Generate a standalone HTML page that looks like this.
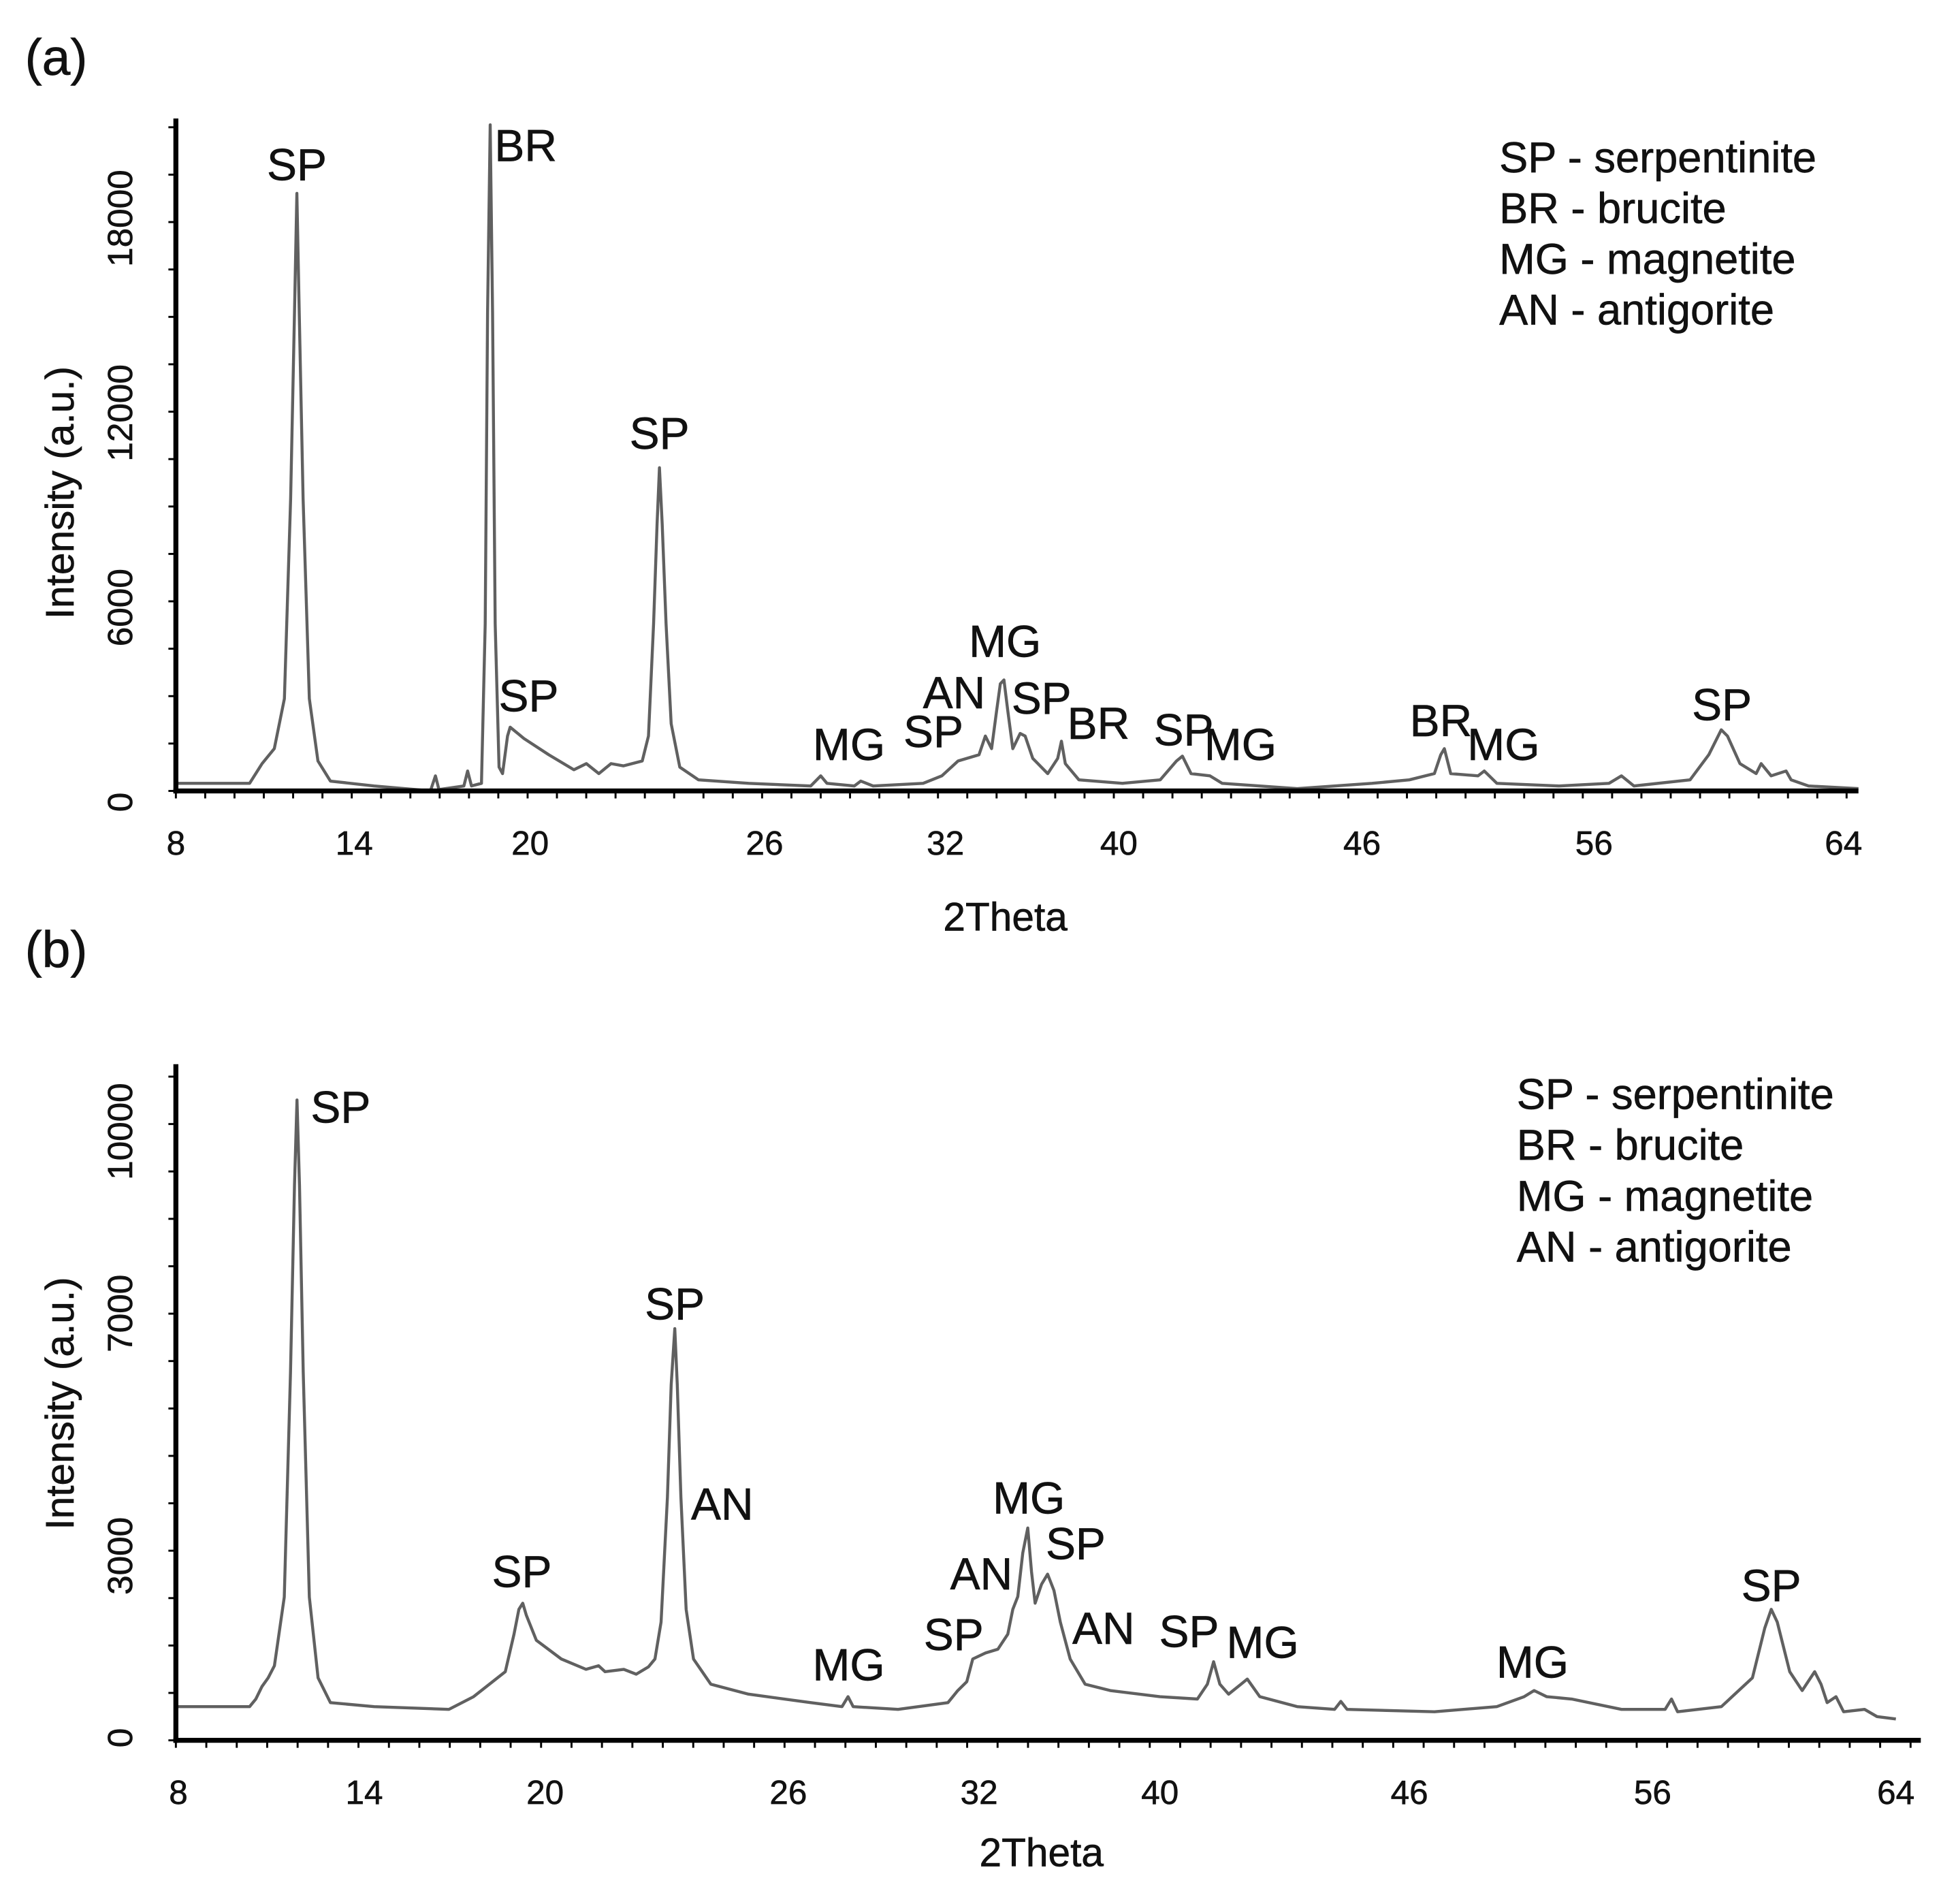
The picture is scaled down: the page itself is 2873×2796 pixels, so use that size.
<!DOCTYPE html>
<html><head><meta charset="utf-8">
<style>
html,body{margin:0;padding:0;background:#fff;}
svg{display:block;}
text{font-family:"Liberation Sans",Arial,sans-serif;fill:#111;stroke:#111;stroke-width:0.35;}
</style></head>
<body>
<svg id="fig" xmlns="http://www.w3.org/2000/svg" width="2873" height="2796" viewBox="0 0 1568.2 1526.2">
<rect width="1568.2" height="1526.2" fill="#fff"/>
</svg>
<script>
// ---------- Panel (a) data ----------
const thetaA = [8.00,10.48,10.90,11.31,11.65,11.86,11.99,12.07,12.15,12.28,12.49,12.78,13.20,14.68,16.60,16.77,16.89,17.74,17.87,18.00,18.34,18.47,18.55,18.64,18.72,18.81,18.94,19.06,19.23,19.32,19.79,20.48,21.12,21.44,21.76,22.07,22.39,22.87,23.03,23.16,23.25,23.31,23.38,23.48,23.61,23.83,24.31,25.59,27.53,27.86,28.07,28.98,29.19,29.60,31.26,31.88,32.58,33.55,33.84,34.13,34.36,34.53,34.70,34.88,35.11,35.45,35.68,36.03,36.72,37.18,37.35,37.53,38.16,40.09,41.02,41.42,41.57,41.78,42.25,42.55,44.40,46.43,48.04,49.12,49.39,49.55,49.82,51.00,51.27,51.81,54.49,56.48,56.88,57.28,59.08,59.68,60.08,60.28,60.68,61.20,61.36,61.68,62.16,62.32,62.88,64.48];
const intensityA = [580,580,1190,1650,3190,9350,15100,18770,15100,9350,3190,1270,650,500,350,810,390,500,960,500,580,5500,15100,20880,15100,5500,1080,880,2040,2310,1960,1460,1000,1190,880,1190,1120,1270,2040,5500,8580,10310,8580,5500,2420,1080,690,580,500,810,580,500,650,500,580,810,1270,1460,2040,1650,2810,3650,3770,2810,1650,2120,2040,1350,880,1350,1880,1190,690,580,690,1270,1420,880,810,580,420,580,690,880,1460,1650,880,810,960,580,500,580,810,500,690,1460,2230,2040,1190,880,1190,810,960,690,500,420];
const xTicksA = [8,14,20,26,32,40,46,56,64];
const yTicksA = [0,6000,12000,18000];
const peakLabelsA = ["SP","BR","SP","SP","MG","AN","SP","MG","SP","BR","SP","MG","BR","MG","SP"];
const peakThetaA = [12.07,19.85,19.95,23.31,28.80,32.40,31.60,34.75,36.43,39.06,41.60,43.00,49.40,52.10,60.10];
const peakIntA = [19180,19770,2800,10900,1300,2900,1700,4480,2730,1950,1750,1300,2040,1300,2530];

// ---------- Panel (b) data ----------
const thetaB = [8.00,10.30,10.50,10.70,10.90,11.10,11.42,11.62,11.75,11.83,11.91,12.03,12.23,12.51,12.91,14.33,16.81,17.63,18.68,18.97,19.13,19.26,19.38,19.71,20.40,21.01,21.32,21.48,21.94,22.25,22.55,22.71,22.86,23.02,23.11,23.20,23.26,23.35,23.48,23.66,24.09,25.02,26.71,27.69,27.88,28.04,29.45,31.02,31.33,31.61,31.80,32.28,32.83,33.27,33.49,33.71,33.93,34.15,34.32,34.48,34.76,35.03,35.31,35.59,36.03,36.69,37.80,40.00,40.90,41.14,41.29,41.44,41.65,41.95,42.10,42.40,43.30,44.20,44.35,44.50,47.03,49.59,50.72,51.13,51.64,52.67,54.72,56.41,56.62,56.82,58.26,59.28,59.69,59.90,60.10,60.51,60.92,61.33,61.54,61.74,62.03,62.28,62.97,63.38,64.00];
const intensityB = [515,515,640,845,990,1190,2320,6030,9120,10520,9120,6030,2320,990,580,515,470,680,1090,1710,2120,2220,2020,1610,1300,1130,1190,1090,1130,1050,1170,1300,1910,3970,5820,6750,5820,3970,2120,1300,885,720,580,515,680,515,470,580,780,925,1300,1400,1460,1710,2120,2330,3050,3460,2740,2220,2530,2700,2430,1910,1300,885,780,680,640,885,1255,885,720,885,970,680,515,470,600,470,430,515,680,780,680,640,470,470,640,430,515,990,1810,2120,1910,1090,780,1090,885,580,680,430,470,350,310];
const xTicksB = [8,14,20,26,32,40,46,56,64];
const yTicksB = [0,3000,7000,10000];
const peakLabelsB = ["SP","SP","AN","SP","MG","SP","AN","MG","SP","AN","SP","MG","MG","SP"];
const peakThetaB = [13.24,19.23,24.37,23.20,27.90,31.20,32.10,34.20,36.27,37.50,40.70,42.47,51.06,59.90];
const peakIntB = [10150,2490,3600,6900,950,1450,2450,3700,2950,1550,1500,1320,995,2260];

// ---------- axis geometry (layout, not data) ----------
const NS = "http://www.w3.org/2000/svg";
const svg = document.getElementById('fig');
function mk(tag, attrs, parent){
  const e = document.createElementNS(NS, tag);
  for (const k in attrs) e.setAttribute(k, attrs[k]);
  (parent||svg).appendChild(e);
  return e;
}
function makeX(ticks, px){
  return function(v){
    for (let i=0;i<ticks.length-1;i++){
      if (v<=ticks[i+1] || i===ticks.length-2){
        return px[i] + (v-ticks[i])*(px[i+1]-px[i])/(ticks[i+1]-ticks[i]);
      }
    }
  };
}
function makeY(y0, pxPer1000){ return v => y0 - v*pxPer1000/1000; }

function drawPanel(o){
  const g = mk('g', {});
  
  
  const xs = makeX(o.xTicks, o.xTickPx);
  const ys = makeY(o.y0, o.ppk);
  const pl = mk('text', {x:o.labelX, y:o.labelY, 'font-size':41}, g);
  pl.textContent = o.letter;
  
  
  let d = '';
  for (let i=0;i<o.theta.length;i++){
    d += (i?'L':'M') + xs(o.theta[i]).toFixed(1) + ' ' + ys(o.inten[i]).toFixed(1);
  }
  const path = mk('path', {d:d, fill:'none', stroke:'#606060', 'stroke-width':2.4, 'stroke-linejoin':'round'}, g);
  
  
  const ax = mk('g', {}, g);
  
  
  mk('line', {x1:o.axX, y1:o.axTop, x2:o.axX, y2:o.axY+2, stroke:'#000', 'stroke-width':4}, ax);
  mk('line', {x1:o.axX-2, y1:o.axY, x2:o.axRight, y2:o.axY, stroke:'#000', 'stroke-width':4}, ax);
  for (let x=o.axX; x<=o.axRight; x+=o.minorX){
    mk('line', {x1:x, y1:o.axY, x2:x, y2:o.axY+6, stroke:'#000', 'stroke-width':1.6}, ax);
  }
  for (let y=o.axY; y>=o.axTop; y-=o.minorY){
    mk('line', {x1:o.axX-6, y1:y, x2:o.axX, y2:y, stroke:'#000', 'stroke-width':1.6}, ax);
  }
  o.xTicks.forEach((t,i)=>{
    const tx = mk('text', {x:o.xTickPx[i], y:o.axY+51, 'font-size':27, 'text-anchor':'middle'}, ax);
    tx.textContent = t;
    
    
  });
  o.yTicks.forEach(t=>{
    const y = ys(t);
    const tx = mk('text', {x:0, y:0, 'font-size':28, 'text-anchor':'middle', transform:`translate(${o.axX-35},${y}) rotate(-90)`}, ax);
    tx.textContent = t;
    
    
  });
  const xt = mk('text', {x:o.xTitleX, y:o.axY+o.xTitleDy, 'font-size':32, 'text-anchor':'middle'}, ax);
  xt.textContent = '2Theta';
  
  
  const yt = mk('text', {x:0, y:0, 'font-size':32, 'text-anchor':'middle', transform:`translate(${o.axX-82},${o.yTitleY}) rotate(-90)`}, ax);
  yt.textContent = 'Intensity (a.u.)';
  
  
  o.pLabels.forEach((lab,i)=>{
    const t = mk('text', {x:xs(o.pTheta[i]), y:ys(o.pInt[i]), 'font-size':36, 'text-anchor':'middle'}, g);
    t.textContent = lab;
    
    
  });
  const lg = mk('g', {}, g);
  
  
  ['SP - serpentinite','BR - brucite','MG - magnetite','AN - antigorite'].forEach((s,i)=>{
    const t = mk('text', {x:o.legX, y:o.legY + i*40.7, 'font-size':34.5}, lg);
    t.textContent = s;
    
    
  });
}

drawPanel({name:'panel-a', letter:'(a)', labelX:20, labelY:60,
  theta:thetaA, inten:intensityA, xTicks:xTicksA, yTicks:yTicksA,
  xTickPx:[141,284,425,613,758,897,1092,1278,1478], y0:643, ppk:26,
  axX:141, axY:634, axTop:95, axRight:1490, minorX:23.5, minorY:38,
  xTitleX:806, xTitleDy:112, yTitleY:395, pLabels:peakLabelsA, pTheta:peakThetaA, pInt:peakIntA,
  legX:1202, legY:138});

drawPanel({name:'panel-b', letter:'(b)', labelX:20, labelY:775,
  theta:thetaB, inten:intensityB, xTicks:xTicksB, yTicks:yTicksB,
  xTickPx:[143,292,437,632,785,930,1130,1325,1520], y0:1393, ppk:48.6,
  axX:141, axY:1395, axTop:853, axRight:1540, minorX:24.4, minorY:38,
  xTitleX:835, xTitleDy:101, yTitleY:1125, pLabels:peakLabelsB, pTheta:peakThetaB, pInt:peakIntB,
  legX:1216, legY:889});
</script>
</body></html>
